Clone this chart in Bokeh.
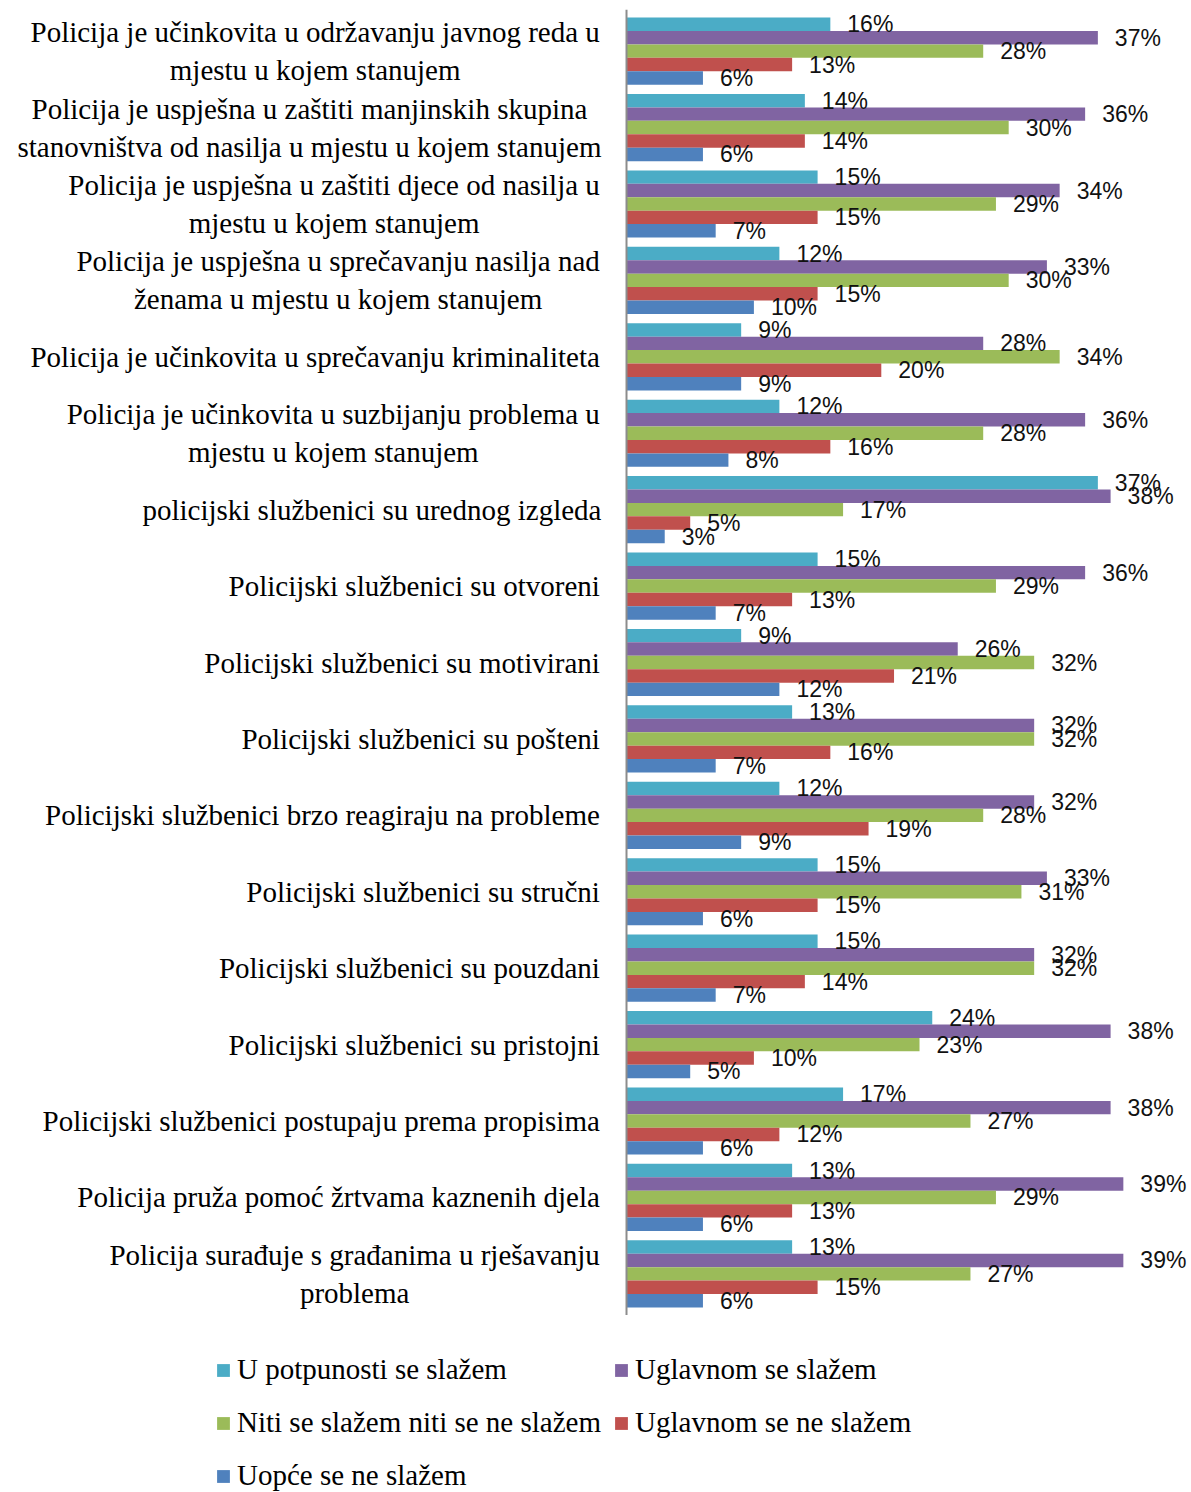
from bokeh.plotting import figure
from bokeh.models import (ColumnDataSource, FactorRange, Range1d, LabelSet,
                          Legend, LegendItem, Span)
from bokeh.core.properties import value
from bokeh.layouts import column
from bokeh.embed import file_html
from bokeh.resources import INLINE

categories = [
    "Policija je učinkovita u održavanju javnog reda u\nmjestu u kojem stanujem",
    "Policija je uspješna u zaštiti manjinskih skupina\nstanovništva od nasilja u mjestu u kojem stanujem",
    "Policija je uspješna u zaštiti djece od nasilja u\nmjestu u kojem stanujem",
    "Policija je uspješna u sprečavanju nasilja nad\nženama u mjestu u kojem stanujem",
    "Policija je učinkovita u sprečavanju kriminaliteta",
    "Policija je učinkovita u suzbijanju problema u\nmjestu u kojem stanujem",
    "policijski službenici su urednog izgleda",
    "Policijski službenici su otvoreni",
    "Policijski službenici su motivirani",
    "Policijski službenici su pošteni",
    "Policijski službenici brzo reagiraju na probleme",
    "Policijski službenici su stručni",
    "Policijski službenici su pouzdani",
    "Policijski službenici su pristojni",
    "Policijski službenici postupaju prema propisima",
    "Policija pruža pomoć žrtvama kaznenih djela",
    "Policija surađuje s građanima u rješavanju\nproblema",
]

series = [
    "U potpunosti se slažem",
    "Uglavnom se slažem",
    "Niti se slažem niti se ne slažem",
    "Uglavnom se ne slažem",
    "Uopće se ne slažem",
]

u_potpunosti = [16, 14, 15, 12, 9, 12, 37, 15, 9, 13, 12, 15, 15, 24, 17, 13, 13]
uglavnom_da = [37, 36, 34, 33, 28, 36, 38, 36, 26, 32, 32, 33, 32, 38, 38, 39, 39]
niti_niti = [28, 30, 29, 30, 34, 28, 17, 29, 32, 32, 28, 31, 32, 23, 27, 29, 27]
uglavnom_ne = [13, 14, 15, 15, 20, 16, 5, 13, 21, 16, 19, 15, 14, 10, 12, 13, 15]
uopce_ne = [6, 6, 7, 10, 9, 8, 3, 7, 12, 7, 9, 6, 7, 5, 6, 6, 6]

values = [u_potpunosti, uglavnom_da, niti_niti, uglavnom_ne, uopce_ne]
colors = ["#4BACC6", "#8064A2", "#9BBB59", "#C0504D", "#4F81BD"]

SERIF = "Liberation Serif"
SANS = "Liberation Sans"
CAT_SIZE = 29

# Times / Liberation Serif advance widths (1/1000 em), used to centre wrapped lines
_W = {" ": 250, "a": 444, "b": 500, "c": 444, "č": 444, "ć": 444, "d": 500,
      "đ": 500, "e": 444, "f": 333, "g": 500, "h": 500, "i": 278, "j": 278,
      "k": 500, "l": 278, "m": 778, "n": 500, "o": 500, "p": 500, "r": 333,
      "s": 389, "š": 389, "t": 278, "u": 500, "v": 500, "z": 444, "ž": 444,
      "P": 667}


def text_width(s, size):
    return sum(_W.get(ch, 500) for ch in s) / 1000.0 * size


# factors: first category at top, first series at top of each group
factors = [(c, s) for c in reversed(categories) for s in reversed(series)]
y_range = FactorRange(*factors, group_padding=0.69, range_padding=0.6,
                      range_padding_units="absolute")

p = figure(width=1191, height=1315, y_range=y_range,
           x_range=Range1d(-49.14, 44.35),
           output_backend="svg", toolbar_location=None,
           min_border_left=0, min_border_right=0, min_border_top=9,
           min_border_bottom=0)
p.xaxis.visible = False
p.yaxis.visible = False
p.grid.visible = False
p.outline_line_color = None

p.add_layout(Span(location=0, dimension="height", line_color="#8C8C8C",
                  line_width=2))

for s, vals, col in zip(series, values, colors):
    src = ColumnDataSource(dict(
        y=[(c, s) for c in categories],
        v=vals,
        t=[f"{v}%" for v in vals],
    ))
    p.hbar(y="y", right="v", left=0, height=1.0, source=src,
           fill_color=col, line_color=None)
    p.add_layout(LabelSet(x="v", y="y", text="t", source=src, x_offset=17,
                          text_baseline="middle", text_align="left",
                          text_font=value(SANS),
                          text_font_size="23px", text_color="#111111"))

# category labels: block right-aligned next to the axis, lines centred in block
ly, lt, lx, lxo, lyo = [], [], [], [], []
for c in categories:
    lines = c.split("\n")
    block_w = max(text_width(ln, CAT_SIZE) for ln in lines)
    n = len(lines)
    for k, ln in enumerate(lines):
        ly.append(c)
        lt.append(ln)
        lx.append(0)
        lxo.append(-(25 + block_w / 2.0))
        lyo.append(((n - 1) / 2.0 - k) * 38)
cat_src = ColumnDataSource(dict(y=ly, x=lx, t=lt, xo=lxo, yo=lyo))
p.add_layout(LabelSet(x="x", y="y", text="t", source=cat_src,
                      x_offset="xo", y_offset="yo",
                      text_align="center", text_baseline="middle",
                      text_font=value(SERIF), text_font_size=f"{CAT_SIZE}px",
                      text_color="#000000"))

# legend panel below the chart
lg = figure(width=1191, height=177, x_range=Range1d(0, 1), y_range=Range1d(0, 1),
            output_backend="svg", toolbar_location=None,
            min_border_left=0, min_border_right=0, min_border_top=0,
            min_border_bottom=0)
lg.axis.visible = False
lg.grid.visible = False
lg.outline_line_color = None
proxies = []
for s, col in zip(series, colors):
    # zero-size proxy glyph, only used for the legend swatch
    proxies.append(lg.hbar(y=[0], left=[0], right=[0], height=0,
                           fill_color=col, line_color=None))

# legend is laid out column by column: cyan, green, blue | purple, red
order = [0, 2, 4, 1, 3]
items = [LegendItem(label=series[i], renderers=[proxies[i]]) for i in order]
legend = Legend(items=items, ncols=2, location=(215, -4),
                label_text_font=SERIF, label_text_font_size=f"{CAT_SIZE}px",
                label_text_color="#000000",
                glyph_width=16, glyph_height=16, label_standoff=6,
                label_height=41, spacing=12, padding=0, margin=0,
                border_line_alpha=0, background_fill_alpha=0)
lg.add_layout(legend, "center")

layout = column(p, lg, spacing=0)
open("out.html", "w").write(file_html(layout, INLINE))
